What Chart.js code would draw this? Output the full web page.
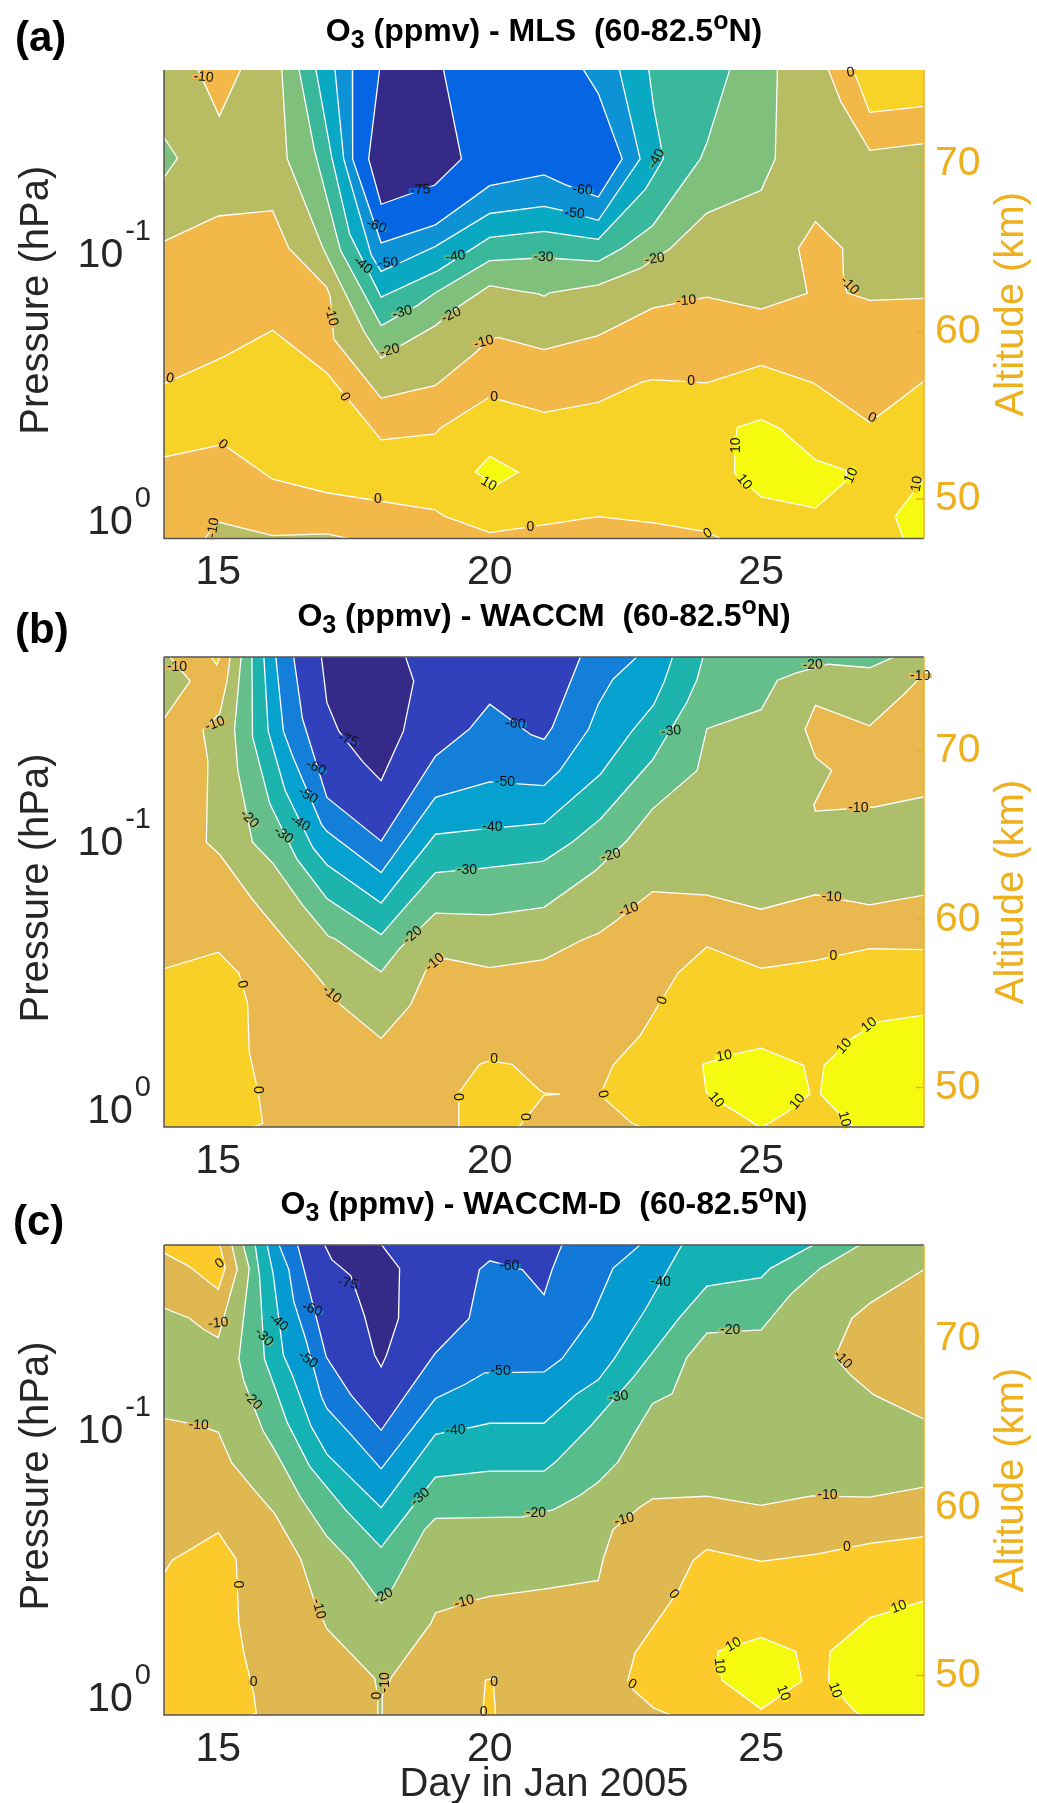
<!DOCTYPE html>
<html lang="en">
<head>
<meta charset="UTF-8">
<title>O3 (ppmv) 60-82.5N</title>
<script src="https://cdn.jsdelivr.net/npm/chart.js"></script>
<style>
    body { margin: 0; background: #fff; font-family: "Liberation Sans", Arial, sans-serif; }
    #page { position: relative; width: 1037px; height: 1803px; overflow: hidden; }
    .wrap { position: absolute; left: 0; width: 1037px; }
    .title { position: absolute; left: 544px; transform: translateX(-50%); white-space: nowrap;
             font-weight: bold; font-size: 32px; line-height: 30px; color: #000; }
    .title sub, .title sup { font-size: 25px; line-height: 0; }
    .letter { position: absolute; font-weight: bold; font-size: 42px; line-height: 44px; color: #000; }
</style>
</head>
<body>
<div id="page">
    <div class="wrap" style="top:0;height:600px"><canvas id="panelA" width="1037" height="600"></canvas></div>
    <div class="wrap" style="top:587px;height:600px"><canvas id="panelB" width="1037" height="600"></canvas></div>
    <div class="wrap" style="top:1175px;height:634px"><canvas id="panelC" width="1037" height="634"></canvas></div>
    <div class="letter" style="left:15px;top:15px">(a)</div>
    <div class="letter" style="left:15px;top:607px">(b)</div>
    <div class="letter" style="left:13px;top:1199px">(c)</div>
    <div class="title" style="top:15px">O<sub>3</sub> (ppmv) - MLS&nbsp;&nbsp;(60-82.5<sup>o</sup>N)</div>
    <div class="title" style="top:600px">O<sub>3</sub> (ppmv) - WACCM&nbsp;&nbsp;(60-82.5<sup>o</sup>N)</div>
    <div class="title" style="top:1188px">O<sub>3</sub> (ppmv) - WACCM-D&nbsp;&nbsp;(60-82.5<sup>o</sup>N)</div>
</div>

<script>
    const dayTicks = [15, 20, 25];
    const pressureTicks = [0.1, 1];
    const pressureExponents = ["-1", "0"];
    const altitudeTicks = [50, 60, 70];

    // contour outlines as [day, altitude km]. 13.5, 28.5, 47 and 76.5 lie off the plot
    // so that the white line does not run along the frame.
    const mlsLow10 = [
        [[13.5,65.38],[14,65.38],[15,66.89],[16,67.21],[16.3,64.97],[17,62.63],[17.06,62.1],[17.13,59.54],[18,56.03],[19,56.78],[19.72,58.69],[20,59.54],[20.16,59.65],[21,58.92],[22,59.75],[23,61.39],[24,62.05],[25,61.33],[25.85,62.27],[25.69,64.97],[26,66.55],[26.5,64.97],[26.52,63.16],[26.58,62.31],[27,61.86],[28,61.97],[28.5,61.97],[28.5,71.21],[28,71.21],[27,70.81],[26.47,73.7],[26.24,75.6],[26.24,76.5],[15.41,76.5],[15.41,75.6],[15.02,72.85],[14.63,75.6],[14.63,76.5],[13.5,76.5]],
        [[14.75,47.65],[15,48.63],[16,47.82],[17,47.93],[17.4,47.65],[17.4,47],[14.75,47]]
    ];
    const mlsLow20 = [
        [[13.5,71.57],[14,71.57],[14.25,70.34],[14,69.19],[13.5,69.19]],
        [[16.17,76.5],[16.17,75.6],[16.27,70.3],[16.93,64.97],[17.69,59.97],[18,58.41],[18.39,59.22],[19,60.35],[19.46,61.56],[20,62.73],[20.56,62.41],[20.9,62.24],[21,62.1],[21.1,62.31],[22,62.78],[22.77,63.76],[23.33,64.97],[24,67.06],[25,68.42],[25.26,70.3],[25.3,75.6],[25.3,76.5]]
    ];
    const mlsLow30 = [[[16.49,76.5],[16.49,75.6],[16.77,70.83],[17.25,64.86],[18,60.35],[18.67,61.56],[19,62.31],[20,64.23],[21,64.4],[22,64.18],[22.44,64.97],[23,66.31],[23.88,70.3],[24,71.25],[24.42,75.6],[24.42,76.5]]];
    const mlsLow40 = [[[16.8,76.5],[16.8,75.6],[17.09,70.4],[17.42,65.82],[18,62.05],[19.05,63.63],[20,65.61],[21,65.97],[22,65.5],[22.87,68.49],[23.2,70.3],[23.02,73.38],[22.93,75.6],[22.93,76.5]]];
    const mlsLow50 = [[[17.15,76.5],[17.15,75.6],[17.31,70.3],[17.82,64.55],[18,63.59],[18.39,64.16],[19,65.08],[20,67.04],[21,67.46],[21.36,67.21],[22,66.63],[22.77,70.3],[22.39,75.6],[22.39,76.5]]];
    const mlsLow60 = [[[17.47,76.5],[17.47,75.6],[17.48,70.3],[18,65.29],[19,66.36],[20,68.7],[21,69.34],[21.39,68.76],[22,68.02],[22.44,70.3],[22,74.19],[21.73,75.6],[21.73,76.5]]];
    const mlsLow75 = [[[17.97,76.5],[17.97,75.6],[17.77,70.3],[18,67.59],[18.99,68.74],[19.48,70.3],[19.15,75.6],[19.15,76.5]]];
    const mlsHigh0 = [
        [[13.5,56.88],[14,56.88],[15.09,58.47],[16,60.07],[17,57.52],[18,53.53],[19,53.89],[19.08,54.21],[20,56.09],[20.9,55.28],[21,55.17],[22,55.77],[22.8,56.98],[23,57.13],[24,56.94],[25,57.98],[25.96,56.94],[27,54.58],[28,57.03],[28.5,57.03],[28.5,47],[24.25,47],[24.25,47.65],[24,48.04],[23.05,48.57],[22,48.95],[21,48.46],[20,48],[19.15,49],[18.99,49.36],[17,50.38],[16,51.19],[15.09,53.26],[14,52.51],[13.5,52.51]],
        [[26.7,76.5],[26.7,75.6],[27,73.07],[28,73.43],[28.5,73.43],[28.5,76.5]]
    ];
    const mlsHigh10 = [
        [[19.73,51.6],[20,52.56],[20.53,51.6],[20.13,50.85]],
        [[24.56,54.28],[25,54.75],[25.35,54.21],[25.6,53.47],[26.01,52.34],[26.58,51.7],[26.55,51.02],[26,49.46],[25,50.13],[24.8,50.7],[24.51,51.55],[24.52,53.15]],
        [[28.5,51.23],[28,51.23],[27.47,48.99],[27.62,47.65],[27.62,47],[28.5,47]]
    ];
    const mlsLabels = [
        [-10,14.73,75.17,5],[-75,18.72,68.44,-5],[-60,17.91,66.29,20],[-40,17.66,63.97,40],[-50,18.13,64.08,-3],[-40,19.37,64.48,-8],
        [-10,17.08,60.92,75],[-30,18.39,61.14,-15],[-20,19.29,60.99,-25],[-20,18.16,58.86,-15],[-10,19.89,59.37,-15],[0,14.11,57.2,10],
        [0,17.33,56.09,60],[0,20.08,56.09,0],[0,15.08,53.26,40],[0,17.94,50,0],[10,19.98,50.91,30],[-10,14.91,48.29,-80],[0,20.75,48.34,0],
        [-60,21.71,68.44,5],[-50,21.56,67.04,5],[-30,20.99,64.44,3],[-40,23.07,70.3,-60],[-20,23.04,64.33,-8],[-10,23.62,61.84,-4],
        [-10,26.63,62.73,45],[0,23.71,57.05,0],[0,27.04,54.85,25],[0,26.65,75.45,-10],[0,24.02,47.95,-30],[10,24.54,53.21,-90],
        [10,24.69,51.02,50],[10,26.66,51.4,-65],[10,27.87,50.91,-80]
    ];

    const waccmLow10 = [
        [[13.5,71.94],[14,71.94],[14.48,74.17],[14.11,75.6],[14.11,76.5],[13.5,76.5]],
        [[15.22,76.5],[15.22,75.6],[15.16,74.17],[15.03,72.26],[14.72,71.25],[14.81,69.38],[14.78,64.59],[15.03,63.84],[15.63,61.18],[16.23,58.84],[16.8,56.71],[17.22,55],[18,52.92],[18.54,54.9],[18.83,57],[19.18,57.67],[20,57.13],[21,57.6],[21.7,58.77],[22,59.16],[22.28,59.8],[23,61.65],[24,61.44],[25,60.6],[26,61.46],[27,60.86],[28,61.44],[28.5,61.44],[28.5,67.29],[28,67.29],[27.09,66.68],[26,66.44],[25.97,66.82],[26.3,68.85],[26,69.64],[25.81,71.3],[26,72.72],[27,71.51],[27.62,73.36],[28,74.6],[28.5,74.6],[28.5,76.5]]
    ];
    const waccmLow20 = [[[15.42,76.5],[15.42,75.6],[15.3,71.3],[15.36,68.85],[15.63,64.59],[16.01,63.31],[16.55,60.86],[17.03,58.99],[17.15,58.84],[18,56.88],[18.35,58.3],[19,60.37],[20,60.26],[21,60.71],[21.94,62.88],[22.53,64.69],[23,66.57],[23.82,68.85],[24,71.34],[25,72.47],[25.3,74.22],[25.65,74.66],[26.24,75.17],[27,74.96],[27.44,75.6],[27.44,76.5]]];
    const waccmLow30 = [[[15.62,76.5],[15.62,75.6],[15.63,70.87],[15.95,66.87],[16.44,63.63],[17,61.24],[18,59.09],[19,62.78],[19.84,63.03],[20.9,63.42],[21,63.48],[21.52,64.59],[22.04,65.97],[23,69.49],[23.63,72.89],[23.82,74.28],[23.93,75.6],[23.93,76.5]]];
    const waccmLow40 = [[[15.84,76.5],[15.84,75.6],[15.92,71.19],[16.23,67.68],[16.74,64.27],[17,63.25],[18,60.97],[19,65.06],[19.78,65.33],[21,65.7],[22.04,68.63],[22.62,71.19],[23.02,72.75],[23.22,74.17],[23.37,75.6],[23.37,76.5]]];
    const waccmLow50 = [[[16.06,76.5],[16.06,75.6],[16.2,71.19],[16.37,69.7],[16.9,65.65],[17,65.23],[18,62.78],[19,67.25],[20,68.17],[21,67.95],[21.29,68.85],[21.82,71.3],[22,72.79],[22.27,74.28],[22.71,75.6],[22.71,76.5]]];
    const waccmLow60 = [[[16.39,76.5],[16.39,75.6],[16.55,71.94],[17,67.25],[18,64.65],[19,69.7],[19.62,71.3],[20,72.79],[20.76,70.98],[21,70.7],[21.15,71.4],[21.67,75.6],[21.67,76.5]]];
    const waccmLow75 = [[[16.9,76.5],[16.9,75.6],[17,72.9],[17.22,71.19],[17.66,69.38],[18,68.25],[18.41,71.19],[18.6,74.17],[18.45,75.6],[18.45,76.5]]];
    const waccmHigh0 = [
        [[13.5,57.07],[14,57.07],[15,58.05],[15.38,56.81],[15.54,55],[15.57,52.13],[15.73,49.78],[15.82,47.87],[15.66,47.65],[15.66,47],[13.5,47]],
        [[14.87,76.5],[14.87,75.6],[14.97,75.13],[15.03,75.6],[15.03,76.5]],
        [[19.43,47],[19.43,49.68],[19.81,51.38],[20,51.6],[20.41,51.38],[20.9,49.89],[21,49.66],[21.29,49.61],[21,49.53],[20.54,47.65],[20.54,47]],
        [[28.5,58.2],[28,58.2],[27,58.26],[26,57.56],[25,57.09],[24,58.37],[23.47,56.81],[22.77,53.09],[22.27,51.32],[22.07,49.78],[22.1,49.36],[22.62,47.87],[22.79,47.65],[22.79,47],[28.5,47]]
    ];
    const waccmHigh10 = [
        [[23.92,51.38],[24.49,51.97],[25,52.34],[25.78,51.32],[25.9,49.61],[25.47,48.51],[25,47.6],[24.29,49.04],[23.99,49.68]],
        [[28.5,54.3],[28,54.3],[27.16,53.9],[26.7,52.98],[26.16,51.32],[26.09,49.61],[26.61,47.87],[26.73,47.65],[26.73,47],[28.5,47]]
    ];
    const waccmLabels = [
        [-10,14.24,74.98,0],[-10,14.94,71.62,-20],[-75,17.39,70.66,20],[-60,16.8,69.02,25],[-50,16.65,67.36,30],[-20,15.57,65.97,45],
        [-40,16.51,65.72,30],[-30,16.2,65.01,35],[-60,20.47,71.62,5],[-50,20.28,68.17,0],[-40,20.05,65.48,0],[-30,19.58,62.93,0],
        [-20,18.58,59.05,-40],[-10,18.99,57.45,-40],[-10,17.09,55.54,40],[0,15.44,56.13,80],[0,15.73,49.85,90],[0,20.08,51.66,0],
        [0,19.42,49.44,90],[0,20.65,48.25,90],[-30,23.34,71.19,-5],[-20,22.23,63.8,-15],[-20,25.95,75.13,-3],[-10,27.93,74.49,0],
        [-10,26.79,66.61,0],[-10,22.56,60.58,-20],[-10,26.3,61.33,3],[0,26.33,57.84,0],[0,23.18,55.17,-70],[10,24.32,51.87,-10],
        [10,26.99,53.72,-40],[10,26.53,52.45,-50],[10,24.17,49.25,50],[10,25.67,49.15,-50],[10,26.53,48.12,75],[0,22.08,49.61,80]
    ];

    const dLow10 = [[[13.5,65.29],[14,65.29],[14.64,64.89],[15,64.46],[15.25,62.64],[15.63,61.16],[16.04,59.62],[16.52,56.91],[16.77,54.43],[17,52.78],[17.88,49.83],[17.94,48.77],[17.94,47],[18.02,47],[18.02,48.77],[18.2,49.95],[18.92,53.13],[19,53.72],[19.81,54.55],[20,54.71],[21,55.14],[22,55.66],[22.09,56.91],[22.27,58.68],[22.77,60.02],[23,60.5],[24,60.66],[25,60.12],[25.93,60.68],[27,60.61],[28,61.2],[28.5,61.2],[28.5,65.24],[28,65.24],[27.07,66.7],[26.64,67.88],[26.36,68.94],[26.67,71.23],[27,72.13],[28,74.14],[28.5,74.14],[28.5,76.5],[15.25,76.5],[15.25,75.6],[15.35,74.14],[15.27,73.24],[15,70.08],[14.72,70.6],[14.46,71.26],[14,71.85],[13.5,71.85]]];
    const dLow20 = [[[15.46,76.5],[15.46,75.6],[15.57,74.21],[15.38,68.83],[15.47,67.53],[15.82,64.58],[16.04,63.4],[16.52,60.57],[16.99,58.32],[17.44,56.79],[18,54.31],[18.2,55.14],[18.8,58.68],[19,59.34],[20.6,59.43],[21.18,59.86],[21.67,60.73],[22,61.51],[22.36,62.69],[22.68,64.46],[23,66.18],[23.36,66.75],[23.63,68.9],[24,70.36],[25,70.55],[25.56,72.72],[26.09,74.21],[26.82,75.6],[26.82,76.5]]];
    const dLow30 = [[[15.68,76.5],[15.68,75.6],[15.76,73.78],[15.85,68.83],[16.03,67.25],[16.27,65.05],[16.68,62.45],[17.34,59.86],[18,57.62],[18.45,59.5],[19,61.79],[20,62.15],[21,62.15],[21.21,62.69],[21.85,64.81],[22.65,67.76],[23.5,71.3],[24,73.15],[25,73.66],[25.17,74.21],[25.96,75.6],[25.96,76.5]]];
    const dLow40 = [[[15.9,76.5],[15.9,75.6],[16.01,73.9],[16.2,69.06],[16.36,67.88],[16.71,64.81],[17,63.16],[18,59.98],[19,64.34],[19.68,64.77],[20,65],[21,65],[21.58,66.7],[22,67.58],[22.29,68.83],[22.87,71.78],[23.54,75.6],[23.54,76.5]]];
    const dLow50 = [[[16.12,76.5],[16.12,75.6],[16.3,74.14],[16.39,72.25],[16.61,70.01],[16.9,66.58],[17,65.88],[17.44,64.34],[18,62.29],[19,66.47],[19.53,67.29],[19.91,68],[21,68.05],[21.33,68.83],[21.88,71.3],[22.27,74.21],[22.77,75.6],[22.77,76.5]]];
    const dLow60 = [[[16.46,76.5],[16.46,75.6],[16.58,74.14],[16.99,68.94],[17.44,66.7],[18,64.58],[18.51,66.94],[19,69.18],[19.62,71.23],[19.81,74.14],[20,74.66],[20.6,74.14],[21,72.65],[21.15,74.14],[21.33,75.6],[21.33,76.5]]];
    const dLow75 = [[[16.96,76.5],[16.96,75.6],[17.09,74.73],[17.44,73.78],[17.69,71.42],[17.88,69.06],[18,68.35],[18.1,69.06],[18.32,71.23],[18.34,74.21],[18.01,75.6],[18.01,76.5]]];
    const dHigh0 = [
        [[13.5,75.13],[14,75.13],[14.46,74.33],[15,72.96],[15.13,74.25],[15.03,75.6],[15.03,76.5],[13.5,76.5]],
        [[13.5,56.08],[14,56.08],[14.15,56.86],[15,58.49],[15.33,56.91],[15.38,53.13],[15.47,51.36],[15.66,48.8],[15.7,47.74],[15.6,47.66],[15.6,47],[13.5,47]],
        [[19.87,47],[19.87,47.66],[19.92,49.71],[20.06,49.83],[20.11,47.66],[20.11,47]],
        [[28.5,58.25],[28,58.25],[27,57.85],[26.02,57.22],[25,56.79],[24,57.5],[23.75,56.86],[23.47,55.02],[22.68,51.36],[22.54,49.66],[22.65,49.12],[23.02,48.06],[23.33,47.66],[23.33,47],[28.5,47]]
    ];
    const dHigh10 = [
        [[24.2,51.43],[25,52.26],[25.64,51.43],[25.75,49.66],[25,48],[24.28,49.71]],
        [[28.5,54.43],[28,54.43],[27.01,53.44],[26.27,51.43],[26.24,49.66],[26.7,47.94],[26.82,47.66],[26.82,47],[28.5,47]]
    ];
    const dLabels = [
        [0,15.03,74.49,-40],[-10,15,70.95,-5],[-75,17.39,73.31,10],[-60,16.73,71.78,20],[-40,16.11,71,40],[-30,15.84,70.12,45],
        [-50,16.65,68.78,35],[-20,15.63,66.35,45],[-10,14.64,64.89,3],[-60,20.36,74.35,0],[-50,20.2,68.07,0],[-40,19.37,64.58,-3],
        [-30,18.72,60.61,-40],[-20,18.04,54.71,-30],[-10,19.53,54.38,-15],[-10,16.85,53.96,75],[0,15.36,55.42,90],[0,15.65,49.59,0],
        [-10,18.07,49.59,-90],[0,17.93,48.81,-90],[0,20.08,49.59,0],[0,19.89,47.82,0],[-20,20.85,59.67,0],[-40,23.15,73.41,0],
        [-30,22.37,66.58,-8],[-20,24.43,70.53,0],[-10,22.48,59.27,-15],[-10,26.22,60.73,0],[-10,26.5,68.78,45],[0,26.58,57.62,0],
        [0,23.39,54.83,50],[0,22.62,49.47,30],[10,27.54,54.08,-20],[10,24.49,51.83,-30],[10,24.23,50.59,85],[10,25.41,48.96,70],[10,26.36,49.12,70]
    ];

    const mlsColors = ["#f2b84a", "#f8d327", "#f5fa0f", "#b8bc62", "#7fc17c", "#39b89c", "#0aa9c3", "#0e92d6", "#0565e3", "#352a87"];
    const waccmColors = ["#e9b84e", "#f8d028", "#f5fa0f", "#aebf6c", "#64bf8b", "#1cb4ad", "#06a2cf", "#147fd9", "#3041bb", "#352a87"];
    const dColors = ["#dfb851", "#fccb2b", "#f5fa0f", "#a5bf6d", "#57bd8d", "#14b2b4", "#059bd1", "#1379d8", "#3040bb", "#352a87"];

    const inkColor = "#262626";
    const altColor = "#eeb01f";

    // painter order: one entry per band, [colour index, polygons]
    function bands(colors, high0, high10, low10, low20, low30, low40, low50, low60, low75) {
        const list = [[1, high0], [2, high10], [3, low10], [4, low20], [5, low30], [6, low40], [7, low50], [8, low60], [9, low75]];
        const sets = [];
        list.forEach(([c, polys]) => {
            polys.forEach(poly => {
                sets.push({
                    data: poly.concat([poly[0]]).map(p => ({ x: p[0], y: p[1] })),
                    xAxisID: "x",
                    yAxisID: "y2",
                    showLine: true,
                    fill: "shape",
                    backgroundColor: colors[c],
                    borderColor: "#ffffff",
                    borderWidth: 1.3,
                    pointRadius: 0,
                    tension: 0
                });
            });
        });
        // the library paints the highest order first
        sets.forEach((s, i) => { s.order = sets.length - i; });
        return sets;
    }

    // band colour on the lighter side of a contour label, used to break the white line under it.
    // only pixels that are exactly a band colour count, so lines and text nearby are ignored.
    function labelPatchColor(ctx, colors, px, py, rad) {
        let best = null;
        [7, -7, 10, -10].forEach(d => {
            const c = ctx.getImageData(Math.round(px + Math.sin(rad) * d), Math.round(py - Math.cos(rad) * d), 1, 1).data;
            const hex = "#" + [c[0], c[1], c[2]].map(v => v.toString(16).padStart(2, "0")).join("");
            if (c[3] < 255 || !colors.includes(hex)) return;
            const sum = c[0] + c[1] + c[2];
            if (!best || sum > best.sum) best = { sum: sum, css: hex };
        });
        return best ? best.css : null;
    }

    function uprightTitle(ctx, text, color, x, y) {
        ctx.save();
        ctx.translate(x, y);
        ctx.rotate(-Math.PI / 2);
        ctx.textAlign = "center";
        ctx.textBaseline = "middle";
        ctx.fillStyle = color;
        ctx.font = "40px 'Liberation Sans'";
        ctx.fillText(text, 0, 0);
        ctx.restore();
    }

    function framePlugin(colors, contourLabels, topLine) {
        return {
            id: "frame",
            beforeDatasetsDraw(chart) {
                const a = chart.chartArea;
                chart.ctx.fillStyle = colors[0];
                chart.ctx.fillRect(a.left, a.top, a.right - a.left, a.bottom - a.top);
            },
            afterDatasetsDraw(chart) {
                const ctx = chart.ctx;
                const a = chart.chartArea;
                const x = chart.scales.x;
                const y = chart.scales.y;
                const y2 = chart.scales.y2;
                ctx.save();
                ctx.font = "14px 'Liberation Sans'";
                ctx.textAlign = "center";
                ctx.textBaseline = "middle";
                contourLabels.forEach(([text, day, km, angle]) => {
                    const px = x.getPixelForValue(day);
                    const py = y2.getPixelForValue(km);
                    const rad = angle * Math.PI / 180;
                    const patch = labelPatchColor(ctx, colors, px, py, rad);
                    const w = ctx.measureText(String(text)).width + 3;
                    ctx.save();
                    ctx.translate(px, py);
                    ctx.rotate(rad);
                    if (patch) {
                        ctx.fillStyle = patch;
                        ctx.fillRect(-w / 2, -2.5, w, 5);
                    }
                    ctx.fillStyle = "#111";
                    ctx.fillText(String(text), 0, 0);
                    ctx.restore();
                });
                ctx.lineWidth = 1.5;
                ctx.strokeStyle = "#555";
                ctx.beginPath();
                ctx.moveTo(a.left, a.top);
                ctx.lineTo(a.left, a.bottom);
                ctx.lineTo(a.right, a.bottom);
                if (topLine) {
                    ctx.moveTo(a.left, a.top);
                    ctx.lineTo(a.right, a.top);
                }
                ctx.stroke();
                ctx.strokeStyle = altColor;
                ctx.beginPath();
                ctx.moveTo(a.right, a.top);
                ctx.lineTo(a.right, a.bottom);
                altitudeTicks.forEach(t => {
                    const py = y2.getPixelForValue(t);
                    ctx.moveTo(a.right, py);
                    ctx.lineTo(a.right - 8, py);
                });
                ctx.stroke();
                // 10 with a raised exponent, right edge about 13px off the frame
                ctx.fillStyle = inkColor;
                pressureTicks.forEach((t, i) => {
                    const py = y.getPixelForValue(t);
                    ctx.textAlign = "right";
                    ctx.textBaseline = "alphabetic";
                    ctx.font = "29px 'Liberation Sans'";
                    const expWidth = ctx.measureText(pressureExponents[i]).width;
                    ctx.fillText(pressureExponents[i], a.left - 13, py - 14);
                    ctx.font = "41px 'Liberation Sans'";
                    ctx.fillText("10", a.left - 15 - expWidth, py + 13);
                });
                const mid = (a.top + a.bottom) / 2;
                uprightTitle(ctx, "Pressure (hPa)", inkColor, 37, mid - 4);
                // altitude title reads upwards too, the library would turn it the other way
                uprightTitle(ctx, "Altitude (km)", altColor, 1012, mid);
                ctx.restore();
            }
        };
    }

    function drawPanel(id, colors, sets, contourLabels, topPad, xHeight, showDayTitle, topLine) {
        const tickFont = { family: "'Liberation Sans'", size: 41 };
        const titleFont = { family: "'Liberation Sans'", size: 40 };
        new Chart(document.getElementById(id), {
            type: "scatter",
            data: { datasets: sets },
            options: {
                responsive: false,
                animation: false,
                events: [],
                layout: { padding: { top: topPad, left: 0, right: 0, bottom: 0 } },
                plugins: { legend: { display: false }, tooltip: { enabled: false } },
                scales: {
                    x: {
                        type: "linear",
                        min: 14,
                        max: 28,
                        grid: { display: false },
                        border: { display: false },
                        afterBuildTicks(s) { s.ticks = dayTicks.map(v => ({ value: v })); },
                        afterFit(s) { s.height = xHeight; },
                        ticks: { color: inkColor, font: tickFont, padding: 2, maxRotation: 0, autoSkip: false },
                        title: { display: showDayTitle, text: "Day in Jan 2005", color: inkColor, font: titleFont, padding: 0 }
                    },
                    y: {
                        type: "logarithmic",
                        position: "left",
                        reverse: true,
                        min: 0.0204,
                        max: 1.16,
                        grid: { display: false },
                        border: { display: false },
                        afterBuildTicks(s) { s.ticks = pressureTicks.map(v => ({ value: v })); },
                        afterFit(s) { s.width = 164; },
                        ticks: { display: false }
                    },
                    y2: {
                        type: "linear",
                        position: "right",
                        min: 47.65,
                        max: 75.6,
                        grid: { display: false },
                        border: { display: false },
                        afterBuildTicks(s) { s.ticks = altitudeTicks.map(v => ({ value: v })); },
                        afterFit(s) { s.width = 113; },
                        ticks: { color: altColor, font: tickFont, padding: 3, autoSkip: false }
                    }
                }
            },
            plugins: [framePlugin(colors, contourLabels, topLine)]
        });
    }

    drawPanel("panelA", mlsColors,
        bands(mlsColors, mlsHigh0, mlsHigh10, mlsLow10, mlsLow20, mlsLow30, mlsLow40, mlsLow50, mlsLow60, mlsLow75),
        mlsLabels, 70, 61.5, false, false);
    drawPanel("panelB", waccmColors,
        bands(waccmColors, waccmHigh0, waccmHigh10, waccmLow10, waccmLow20, waccmLow30, waccmLow40, waccmLow50, waccmLow60, waccmLow75),
        waccmLabels, 70, 60, false, true);
    drawPanel("panelC", dColors,
        bands(dColors, dHigh0, dHigh10, dLow10, dLow20, dLow30, dLow40, dLow50, dLow60, dLow75),
        dLabels, 70, 94, true, true);
</script>
</body>
</html>
